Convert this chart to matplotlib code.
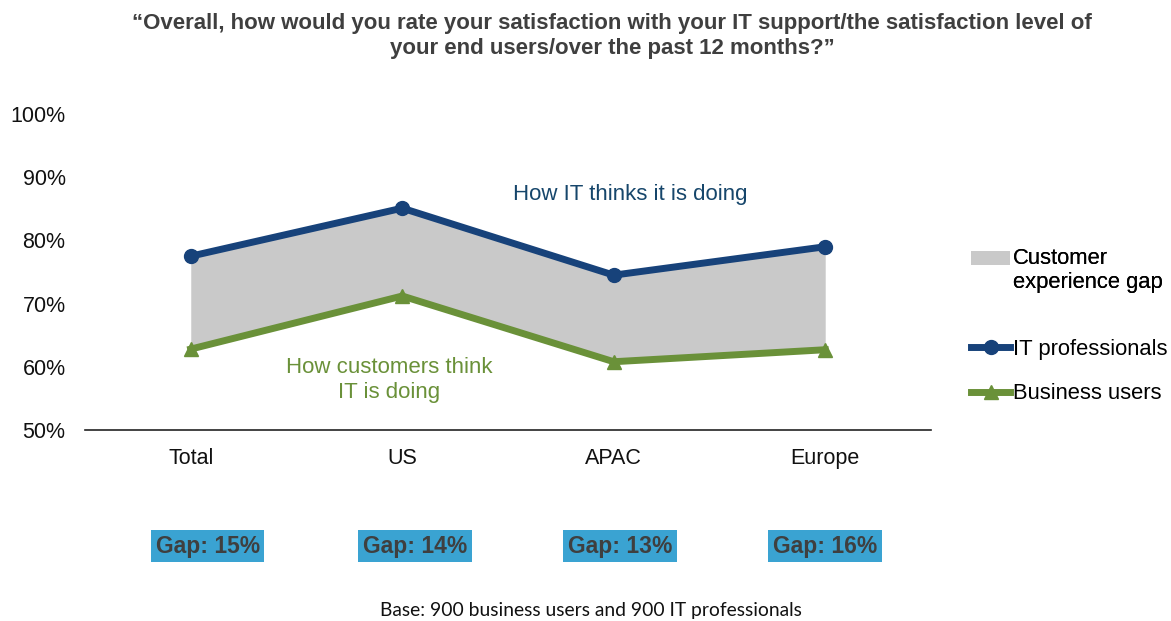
import matplotlib.pyplot as plt
from matplotlib.patches import Patch, Rectangle
from matplotlib.lines import Line2D
from matplotlib.legend_handler import HandlerPatch

plt.rcParams['font.family'] = ['Liberation Sans', 'DejaVu Sans']

# Data
regions = ["Total", "US", "APAC", "Europe"]
it_pros = [77.5, 85.1, 74.5, 79.0]
business_users = [62.8, 71.2, 60.8, 62.7]
gap_labels = ["Gap: 15%", "Gap: 14%", "Gap: 13%", "Gap: 16%"]
y_ticks = [50, 60, 70, 80, 90, 100]

blue = "#17427A"
green = "#6A9139"
gray_fill = "#C9C9C9"

fig = plt.figure(figsize=(11.71, 6.21), dpi=100)
ax = fig.add_axes([0.0726, 0.3076, 0.7224, 0.5088])

x = list(range(len(regions)))
ax.fill_between(x, business_users, it_pros, color=gray_fill, lw=0)
ax.plot(x, it_pros, color=blue, lw=5, marker="o", markersize=10)
ax.plot(x, business_users, color=green, lw=5, marker="^", markersize=10)

ax.set_xlim(-0.5, 3.5)
ax.set_ylim(50, 100)
ax.set_yticks(y_ticks)
ax.set_yticklabels([f"{v}%" for v in y_ticks])
ax.set_xticks(x)
ax.set_xticklabels(regions)
ax.tick_params(axis="both", length=0, labelsize=15.5, colors="#111111")
ax.tick_params(axis="y", pad=14)
ax.tick_params(axis="x", pad=13)
for s in ["top", "right", "left"]:
    ax.spines[s].set_visible(False)
ax.spines["bottom"].set_color("#222222")
ax.spines["bottom"].set_linewidth(1.2)

ax.text(2.08, 87.2, "How IT thinks it is doing", color="#16466B", fontsize=16,
        ha="center", va="center")
ax.text(0.94, 57.9, "How customers think\nIT is doing", color=green, fontsize=16,
        ha="center", va="center", linespacing=1.3)

# gap boxes below the axis
box_x = [0.08, 0.06, 0.03, 0.0]
for i, lab in enumerate(gap_labels):
    ax.text(x[i] + box_x[i], 31.6, lab, ha="center", va="center",
            fontsize=16.5, fontweight="bold", color="#3F3F3F", clip_on=False,
            family=["Liberation Sans Narrow", "Liberation Sans"],
            bbox=dict(boxstyle="square,pad=0.2", fc="#3AA3D2", ec="none"))

fig.text(0.523, 0.942, "\u201cOverall, how would you rate your satisfaction with your IT support/the satisfaction level of\nyour end users/over the past 12 months?\u201d",
         ha="center", va="center", fontsize=16, fontweight="bold", color="#3F3F3F",
         linespacing=1.3)

fig.text(0.505, 0.017, "Base: 900 business users and 900 IT professionals", ha="center",
         va="center", fontsize=13.9, color="#111111", family=["Lato", "DejaVu Sans"])


# legend patch sits next to the first line of its two-line label
def top_patch(legend, orig_handle, xdescent, ydescent, width, height, fontsize):
    return Rectangle((-xdescent, -ydescent + fontsize * 0.63), width, 9.5)


leg1 = fig.legend([Patch(facecolor=gray_fill, edgecolor="none")],
                  ["Customer\nexperience gap"], loc="upper left",
                  bbox_to_anchor=(0.822, 0.615), frameon=False, fontsize=15.8,
                  handlelength=1.75, handletextpad=0.15, borderaxespad=0,
                  handler_map={Patch: HandlerPatch(patch_func=top_patch)})

line_handles = [
    Line2D([], [], color=blue, lw=5, marker="o", markersize=10),
    Line2D([], [], color=green, lw=5, marker="^", markersize=10),
]
fig.legend(line_handles, ["IT professionals", "Business users"], loc="upper left",
           bbox_to_anchor=(0.822, 0.468), frameon=False, fontsize=15.8,
           handlelength=1.75, handletextpad=0.15, labelspacing=1.05, borderaxespad=0)
fig.add_artist(leg1)

fig.savefig("out.png", dpi=100)
